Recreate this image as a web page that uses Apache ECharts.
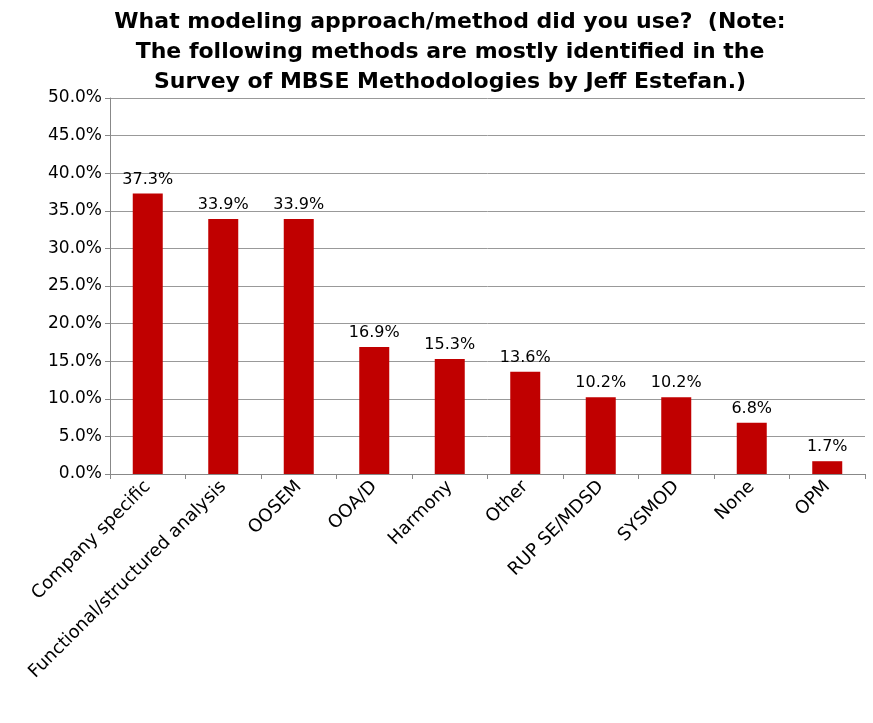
<!DOCTYPE html>
<html>
<head>
<meta charset="UTF-8">
<script src="https://cdn.jsdelivr.net/npm/echarts@6/dist/echarts.min.js"></script>
</head>
<body style="margin:0;background:#fff">
<div id="container" style="width:873px;height:723px;"></div>
<script>
var categories = ['Company specific', 'Functional/structured analysis', 'OOSEM', 'OOA/D', 'Harmony', 'Other', 'RUP SE/MDSD', 'SYSMOD', 'None', 'OPM'];
var values = [37.3, 33.9, 33.9, 16.9, 15.3, 13.6, 10.2, 10.2, 6.8, 1.7];

var chart = echarts.init(document.getElementById('container'));
chart.setOption({
    animation: false,
    title: {
        text: 'What modeling approach/method did you use?  (Note:\nThe following methods are mostly identified in the\nSurvey of MBSE Methodologies by Jeff Estefan.)',
        left: 445, top: 2, textAlign: 'center',
        textStyle: {fontFamily: 'DejaVu Sans', fontSize: 22, fontWeight: 'bold', lineHeight: 30, color: '#000'}
    },
    grid: {left: 110, right: 8, top: 98, bottom: 249},
    xAxis: {
        type: 'category', data: categories,
        axisLine: {lineStyle: {color: '#888'}},
        axisTick: {show: true, lineStyle: {color: '#888'}},
        axisLabel: {rotate: 45, interval: 0, fontFamily: 'DejaVu Sans', fontSize: 18, color: '#000', margin: 10}
    },
    yAxis: {
        type: 'value', min: 0, max: 50, interval: 5,
        axisLine: {show: true, lineStyle: {color: '#888'}},
        axisTick: {show: true, lineStyle: {color: '#888'}},
        splitLine: {lineStyle: {color: '#999'}},
        axisLabel: {formatter: function (v) { return v.toFixed(1) + '%'; }, fontFamily: 'DejaVu Sans', fontSize: 17, color: '#000'}
    },
    series: [{
        type: 'bar', data: values, barWidth: 30,
        itemStyle: {color: '#C00000'},
        label: {show: true, position: 'top', formatter: function (p) { return p.value.toFixed(1) + '%'; }, fontFamily: 'DejaVu Sans', fontSize: 16, color: '#000', distance: 6}
    }]
});
</script>
</body>
</html>
